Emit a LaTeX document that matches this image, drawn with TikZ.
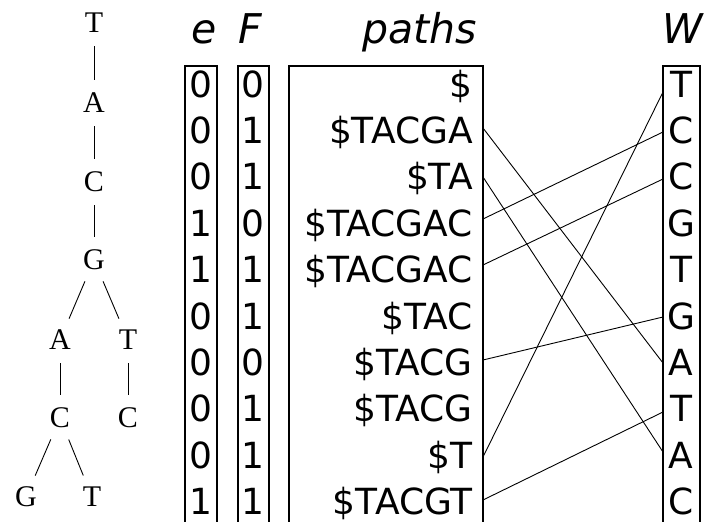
\documentclass[tikz,border=0pt]{standalone}
\usepackage{fontspec}
\newfontfamily\dvsans{DejaVu Sans}
\newfontfamily\lserif{Liberation Serif}
\begin{document}
\begin{tikzpicture}[x=1pt,y=-1pt,
  cell/.style={font=\dvsans\fontsize{36}{40}\selectfont, inner sep=0pt, anchor=base},
  pathtxt/.style={cell, anchor=base east},
  head/.style={font=\dvsans\itshape\fontsize{41}{46}\selectfont, inner sep=0pt, anchor=base},
  headr/.style={head, anchor=base east},
  tnode/.style={circle, minimum size=46pt, inner sep=0pt, font=\lserif\fontsize{30}{34}\selectfont},
  tedge/.style={line width=0.9pt},
  colbox/.style={line width=1.2pt},
  link/.style={line width=0.9pt}]
\useasboundingbox (0,0) rectangle (705,522);

% tree
\node[tnode] (t1) at (94,23) {T};
\node[tnode] (t2) at (94,103) {A};
\node[tnode] (t3) at (94,182) {C};
\node[tnode] (t4) at (94,260) {G};
\node[tnode] (t5) at (60,340) {A};
\node[tnode] (t6) at (128,340) {T};
\node[tnode] (t7) at (60,418) {C};
\node[tnode] (t8) at (128,418) {C};
\node[tnode] (t9) at (26,497) {G};
\node[tnode] (t10) at (92,497) {T};
\draw[tedge] (t1) -- (t2);
\draw[tedge] (t2) -- (t3);
\draw[tedge] (t3) -- (t4);
\draw[tedge] (t4) -- (t5);
\draw[tedge] (t4) -- (t6);
\draw[tedge] (t5) -- (t7);
\draw[tedge] (t6) -- (t8);
\draw[tedge] (t7) -- (t9);
\draw[tedge] (t7) -- (t10);

% headers
\node[head] (he) at (204,43) {e};
\node[head] (hf) at (250,43) {F};
\node[headr] (hp) at (477,43) {paths};
\node[head] (hw) at (683,43) {W};

% column boxes (open at the bottom)
\draw[colbox] (185,522) |- (217,66) -- (217,522);
\draw[colbox] (238,522) |- (269,66) -- (269,522);
\draw[colbox] (289,522) |- (483,66) -- (483,522);
\draw[colbox] (663,522) |- (700,66) -- (700,522);

% rows
\foreach \ev/\fv/\pv/\wv [count=\i from 0] in {
  0/0/\$/T, 0/1/\$TACGA/C, 0/1/\$TA/C, 1/0/\$TACGAC/G, 1/1/\$TACGAC/T,
  0/1/\$TAC/G, 0/0/\$TACG/A, 0/1/\$TACG/T, 0/1/\$T/A, 1/1/\$TACGT/C}{
  \pgfmathsetmacro{\bl}{97+46.4*\i}
  \node[cell] (e\i) at (201,\bl) {\ev};
  \node[cell] (f\i) at (253,\bl) {\fv};
  \node[pathtxt] (p\i) at (473,\bl) {\pv};
  \node[cell] (w\i) at (681,\bl) {\wv};
}

% connector end points on the box edges
\coordinate (pl1) at (483,128);
\coordinate (pl2) at (483,177);
\coordinate (pl3) at (483,219);
\coordinate (pl4) at (483,265);
\coordinate (pl6) at (483,360);
\coordinate (pl8) at (483,457);
\coordinate (pl9) at (483,500);
\coordinate (wr0) at (663,92);
\coordinate (wr1) at (663,132);
\coordinate (wr2) at (663,179);
\coordinate (wr5) at (663,317);
\coordinate (wr6) at (663,363);
\coordinate (wr7) at (663,412);
\coordinate (wr8) at (663,452);

% connectors
\draw[link] (pl1) -- (wr6);
\draw[link] (pl2) -- (wr8);
\draw[link] (pl3) -- (wr1);
\draw[link] (pl4) -- (wr2);
\draw[link] (pl6) -- (wr5);
\draw[link] (pl8) -- (wr0);
\draw[link] (pl9) -- (wr7);
\end{tikzpicture}
\end{document}
